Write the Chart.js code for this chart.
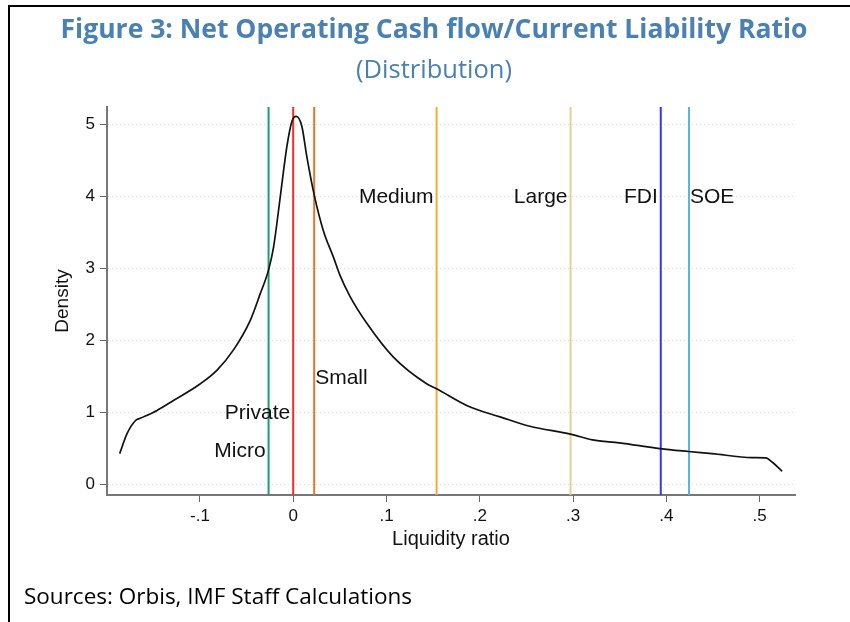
<!DOCTYPE html>
<html><head><meta charset="utf-8">
<script src="https://cdn.jsdelivr.net/npm/chart.js@4.4.1/dist/chart.umd.min.js"></script>
<style>
html,body{margin:0;padding:0;background:#fff;}
#wrap{position:relative;width:850px;height:622px;overflow:hidden;background:#fff;}
#bl{position:absolute;left:8px;top:5px;width:2px;height:617px;background:#000;}
#bt{position:absolute;left:8px;top:5px;width:842px;height:2px;background:#000;}
#c{position:absolute;left:0;top:0;}
.ttl{position:absolute;left:0;width:868px;text-align:center;color:#4a80b2;font-family:'Open Sans';white-space:nowrap;line-height:1;}
#t1{top:15px;font-size:26.5px;font-weight:700;}
#t2{top:56px;font-size:25.5px;font-weight:400;}
#src{position:absolute;left:24px;top:585px;font-family:'Open Sans';font-size:22.5px;color:#000;line-height:1;white-space:nowrap;}
</style></head>
<body>
<div id="wrap">
<canvas id="c" width="850" height="622"></canvas>
<div id="bl"></div><div id="bt"></div>
<div class="ttl" id="t1">Figure 3: Net Operating Cash flow/Current Liability Ratio</div>
<div class="ttl" id="t2">(Distribution)</div>
<div id="src">Sources: Orbis, IMF Staff Calculations</div>
</div>
<script>
// ---- data ----
const xTicks = [-0.1, 0, 0.1, 0.2, 0.3, 0.4, 0.5];
const xTickLabels = ['-.1', '0', '.1', '.2', '.3', '.4', '.5'];
const yTicks = [0, 1, 2, 3, 4, 5];
const yTickLabels = ['0', '1', '2', '3', '4', '5'];

const curveX = [-0.186, -0.178, -0.169, -0.164, -0.146, -0.128, -0.0995, -0.0816, -0.064, -0.046, -0.0353, -0.0264, -0.021, -0.0139, -0.0068, -0.0014, 0.0032, 0.0093, 0.0146, 0.0225, 0.0324, 0.043, 0.0503, 0.061, 0.0789, 0.1074, 0.143, 0.1537, 0.189, 0.2218, 0.2535, 0.2973, 0.321, 0.3497, 0.3932, 0.4235, 0.449, 0.492, 0.5066, 0.5137, 0.524];
const curveY = [0.43, 0.71, 0.89, 0.92, 1.03, 1.17, 1.40, 1.59, 1.87, 2.28, 2.65, 2.98, 3.30, 3.99, 4.69, 5.04, 5.11, 4.97, 4.55, 4.02, 3.52, 3.16, 2.90, 2.61, 2.24, 1.77, 1.40, 1.33, 1.08, 0.94, 0.81, 0.70, 0.62, 0.58, 0.50, 0.46, 0.43, 0.375, 0.37, 0.31, 0.185];

const groups = ['Micro', 'Private', 'Small', 'Medium', 'Large', 'FDI', 'SOE'];
const groupX = [-0.0264, 0.0, 0.0225, 0.1537, 0.2973, 0.394, 0.4243];
const labelY = [0.46, 0.99, 1.47, 3.99, 3.99, 3.99, 3.99];

const xMin = -0.1996, xMax = 0.5379;
const yMin = -0.144, yMax = 5.24;

// ---- styles ----
const groupColors = ['#1a9d72', '#f22a2a', '#e8742c', '#f2aa3a', '#e5d08e', '#3434ff', '#5ab2e8'];
const labelAlign = ['right', 'right', 'left', 'right', 'right', 'right', 'left'];

const datasets = [];
groups.forEach((g, i) => {
  datasets.push({
    label: g,
    data: [{x: groupX[i], y: yMin}, {x: groupX[i], y: yMax}],
    borderColor: groupColors[i],
    borderWidth: 2,
    pointRadius: 0,
    order: 2
  });
});
datasets.push({
  label: 'density',
  data: curveX.map((v, i) => ({x: v, y: curveY[i]})),
  borderColor: '#111',
  borderWidth: 1.7,
  pointRadius: 0,
  cubicInterpolationMode: 'monotone',
  order: 1
});

const lineLabels = {
  id: 'lineLabels',
  afterDatasetsDraw(chart) {
    const {ctx, scales: {x, y}} = chart;
    ctx.save();
    ctx.font = '21px "Liberation Sans", Arial, sans-serif';
    ctx.fillStyle = '#111';
    ctx.textBaseline = 'middle';
    groups.forEach((g, i) => {
      const px = x.getPixelForValue(groupX[i]);
      const py = y.getPixelForValue(labelY[i]);
      const right = labelAlign[i] === 'right';
      ctx.textAlign = right ? 'right' : 'left';
      ctx.fillText(g, px + (right ? -3 : 1), py);
    });
    ctx.restore();
  }
};

const axisFont = {family: '"Liberation Sans", Arial, sans-serif', size: 17};
const titleFont = {family: '"Liberation Sans", Arial, sans-serif', size: 20};

new Chart(document.getElementById('c'), {
  type: 'line',
  data: {datasets},
  options: {
    responsive: false,
    animation: false,
    events: [],
    layout: {padding: {left: 0, top: 107, right: 55, bottom: 67}},
    plugins: {legend: {display: false}, tooltip: {enabled: false}, title: {display: false}},
    scales: {
      x: {
        type: 'linear',
        min: xMin, max: xMax,
        afterFit: s => { s.height = 60; },
        afterBuildTicks: s => { s.ticks = xTicks.map(v => ({value: v})); },
        ticks: {
          callback: (v, i) => xTickLabels[i],
          font: axisFont, color: '#111', padding: 4, maxRotation: 0, autoSkip: false
        },
        grid: {drawOnChartArea: false, drawTicks: true, tickLength: 7, tickColor: '#666', tickWidth: 1},
        border: {color: '#777', width: 2},
        title: {display: true, text: 'Liquidity ratio', font: titleFont, color: '#111', padding: {top: 0, bottom: 4}}
      },
      y: {
        type: 'linear',
        min: yMin, max: yMax,
        afterFit: s => { s.width = 107; },
        afterBuildTicks: s => { s.ticks = yTicks.map(v => ({value: v})); },
        ticks: {
          callback: (v, i) => yTickLabels[i],
          font: axisFont, color: '#111', padding: 5, autoSkip: false
        },
        grid: {color: '#d9d9d9', lineWidth: 1, drawTicks: true, tickLength: 7, tickColor: '#666', tickWidth: 1},
        border: {color: '#777', width: 2, dash: [1, 3]},
        title: {display: true, text: 'Density', font: {family: titleFont.family, size: 19}, color: '#111', padding: {top: 51, bottom: 0}}
      }
    }
  },
  plugins: [lineLabels]
});
</script>
</body></html>
